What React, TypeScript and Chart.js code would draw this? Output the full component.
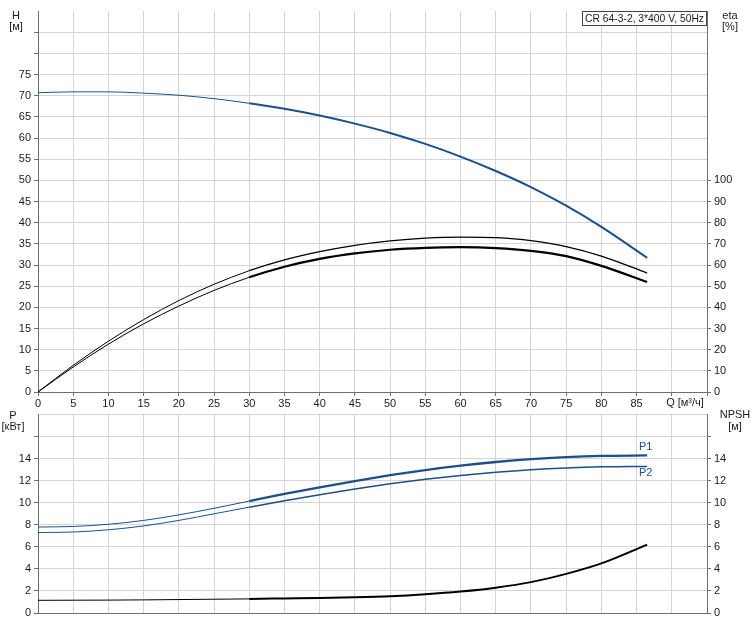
import React, { useEffect, useRef } from 'react';
import { Chart, registerables } from 'chart.js';
Chart.register(...registerables);

// ---- data ----
const flowQ = [0, 5, 10, 15, 20, 25, 30, 35, 40, 45, 50, 55, 60, 65, 70, 75, 80, 86.5];
const headH = [70.7, 70.9, 70.9, 70.6, 70.1, 69.3, 68.2, 66.9, 65.3, 63.4, 61.2, 58.6, 55.6, 52.2, 48.4, 44.0, 39.0, 31.7];
const etaUpper = [0, 12.6, 24.0, 34.2, 43.2, 50.9, 57.3, 62.4, 66.3, 69.3, 71.4, 72.7, 73.2, 72.9, 71.5, 68.7, 64.2, 56.2];
const etaLower = [0, 11.8, 22.6, 32.2, 40.6, 48.0, 54.2, 59.2, 62.9, 65.5, 67.2, 68.1, 68.4, 68.0, 66.7, 64.2, 59.6, 52.0];
const powerP1 = [7.8, 7.85, 8.05, 8.4, 8.9, 9.5, 10.15, 10.8, 11.4, 11.97, 12.5, 12.97, 13.37, 13.7, 13.96, 14.14, 14.25, 14.3];
const powerP2 = [7.3, 7.35, 7.55, 7.9, 8.4, 9.0, 9.6, 10.18, 10.73, 11.25, 11.72, 12.13, 12.48, 12.77, 13.0, 13.16, 13.26, 13.3];
const npshR = [1.15, 1.16, 1.17, 1.19, 1.22, 1.25, 1.28, 1.32, 1.36, 1.42, 1.52, 1.7, 1.95, 2.3, 2.8, 3.55, 4.5, 6.2];

const qTickLabels = [0, 5, 10, 15, 20, 25, 30, 35, 40, 45, 50, 55, 60, 65, 70, 75, 80, 85];
const hTickLabels = [0, 5, 10, 15, 20, 25, 30, 35, 40, 45, 50, 55, 60, 65, 70, 75];
const etaTickLabels = [0, 10, 20, 30, 40, 50, 60, 70, 80, 90, 100];
const pTickLabels = [0, 2, 4, 6, 8, 10, 12, 14];

const BLUE = '#1c4f8c';
const GRID = '#d4d4d4';
const AXIS = '#6e6e6e';
const TEXT = '#1a1a1a';
const FONT = 'Liberation Sans, Arial, sans-serif';
const THICK_FROM = 30;

const pts = (ys: number[]) => flowQ.map((x, i) => ({ x, y: ys[i] }));

const lineDs = (label: string, ys: number[], color: string, axis: string, thin: number, thick: number) => ({
  label,
  data: pts(ys),
  yAxisID: axis,
  borderColor: color,
  backgroundColor: color,
  borderWidth: thin,
  pointRadius: 0,
  fill: false,
  cubicInterpolationMode: 'monotone' as const,
  segment: {
    borderWidth: (ctx: any) => (ctx.p0.parsed.x >= THICK_FROM ? thick : thin),
  },
});

const labelCb = (list: number[]) => (v: any) => (list.includes(Number(v)) ? String(v) : '');

const textPlugin = (draw: (ctx: CanvasRenderingContext2D) => void) => ({
  id: 'texts' + Math.random(),
  afterDraw(chart: any) {
    const ctx = chart.ctx as CanvasRenderingContext2D;
    ctx.save();
    draw(ctx);
    ctx.restore();
  },
});

function put(ctx: CanvasRenderingContext2D, t: string, x: number, y: number, align: CanvasTextAlign = 'center', color = TEXT, maxW?: number) {
  ctx.font = `11px ${FONT}`;
  ctx.fillStyle = color;
  ctx.textAlign = align;
  ctx.textBaseline = 'middle';
  if (maxW) ctx.fillText(t, x, y, maxW);
  else ctx.fillText(t, x, y);
}

export default function App() {
  const topRef = useRef<HTMLCanvasElement>(null);
  const botRef = useRef<HTMLCanvasElement>(null);

  useEffect(() => {
    const tickFont = { family: FONT, size: 11 };

    const top = new Chart(topRef.current!, {
      type: 'line',
      data: {
        datasets: [
          lineDs('H', headH, BLUE, 'yH', 1, 2),
          lineDs('eta', etaUpper, '#000', 'yEta', 1, 1.3),
          lineDs('eta2', etaLower, '#000', 'yEta', 1, 2.2),
        ] as any,
      },
      options: {
        responsive: false,
        animation: false,
        devicePixelRatio: 1,
        layout: { padding: { top: 11, left: 0, right: 0, bottom: 0 } },
        plugins: { legend: { display: false }, tooltip: { enabled: false } },
        scales: {
          x: {
            type: 'linear',
            min: 0,
            max: 95,
            afterFit: (s: any) => { s.height = 18; },
            ticks: { stepSize: 5, autoSkip: false, maxRotation: 0, padding: 1, color: TEXT, font: tickFont, callback: labelCb(qTickLabels) },
            grid: { color: GRID, tickLength: 4, tickColor: AXIS },
            border: { color: AXIS },
          },
          yH: {
            type: 'linear',
            position: 'left',
            min: 0,
            max: 90,
            afterFit: (s: any) => { s.width = 38; },
            ticks: { stepSize: 5, autoSkip: false, padding: 3, color: TEXT, font: tickFont, callback: labelCb(hTickLabels) },
            grid: {
              color: (c: any) => (c.tick && c.tick.value === 90 ? 'rgba(0,0,0,0)' : GRID),
              tickColor: (c: any) => (c.tick && c.tick.value === 90 ? 'rgba(0,0,0,0)' : AXIS),
              tickLength: 4,
            },
            border: { color: AXIS },
          },
          yEta: {
            type: 'linear',
            position: 'right',
            min: 0,
            max: 180,
            afterFit: (s: any) => { s.width = 45; },
            ticks: { stepSize: 10, autoSkip: false, padding: 3, color: TEXT, font: tickFont, callback: labelCb(etaTickLabels) },
            grid: {
              drawOnChartArea: false,
              tickColor: (c: any) => (c.tick && c.tick.value > 100 ? 'rgba(0,0,0,0)' : AXIS),
              tickLength: 4,
            },
            border: { color: AXIS },
          },
        } as any,
      },
      plugins: [
        textPlugin((ctx) => {
          put(ctx, 'H', 16, 16);
          put(ctx, '[м]', 16, 27);
          put(ctx, 'eta', 730, 16);
          put(ctx, '[%]', 730, 27);
          put(ctx, 'Q [м³/ч]', 685, 403);
          // legend box
          ctx.fillStyle = '#fff';
          ctx.fillRect(582.5, 11.5, 124, 14);
          ctx.strokeStyle = '#444';
          ctx.lineWidth = 1;
          ctx.strokeRect(582.5, 11.5, 124, 14);
          put(ctx, 'CR 64-3-2, 3*400 V, 50Hz', 585, 18.5, 'left', TEXT, 119);
        }),
      ],
    } as any);

    const bot = new Chart(botRef.current!, {
      type: 'line',
      data: {
        datasets: [
          lineDs('P1', powerP1, BLUE, 'yP', 1, 2.3),
          lineDs('P2', powerP2, BLUE, 'yP', 1, 1.5),
          lineDs('NPSH', npshR, '#000', 'yN', 1, 2),
        ] as any,
      },
      options: {
        responsive: false,
        animation: false,
        devicePixelRatio: 1,
        layout: { padding: { top: 6, left: 0, right: 0, bottom: 0 } },
        plugins: { legend: { display: false }, tooltip: { enabled: false } },
        scales: {
          x: {
            type: 'linear',
            min: 0,
            max: 95,
            afterFit: (s: any) => { s.height = 11; },
            ticks: { stepSize: 5, autoSkip: false, display: false },
            grid: { color: GRID, drawTicks: false },
            border: { color: AXIS },
          },
          yP: {
            type: 'linear',
            position: 'left',
            min: 0,
            max: 18,
            afterFit: (s: any) => { s.width = 38; },
            ticks: { stepSize: 2, autoSkip: false, padding: 3, color: TEXT, font: tickFont, callback: labelCb(pTickLabels) },
            grid: {
              color: GRID,
              tickColor: (c: any) => (c.tick && c.tick.value === 18 ? 'rgba(0,0,0,0)' : AXIS),
              tickLength: 4,
            },
            border: { color: AXIS },
          },
          yN: {
            type: 'linear',
            position: 'right',
            min: 0,
            max: 18,
            afterFit: (s: any) => { s.width = 45; },
            ticks: { stepSize: 2, autoSkip: false, padding: 3, color: TEXT, font: tickFont, callback: labelCb(pTickLabels) },
            grid: {
              drawOnChartArea: false,
              tickColor: (c: any) => (c.tick && c.tick.value === 18 ? 'rgba(0,0,0,0)' : AXIS),
              tickLength: 4,
            },
            border: { color: AXIS },
          },
        } as any,
      },
      plugins: [
        textPlugin((ctx) => {
          put(ctx, 'P', 13, 11);
          put(ctx, '[кВт]', 13, 22);
          put(ctx, 'NPSH', 735, 10);
          put(ctx, '[м]', 735, 22);
          put(ctx, 'P1', 639, 42, 'left', BLUE);
          put(ctx, 'P2', 639, 68, 'left', BLUE);
        }),
      ],
    } as any);

    return () => {
      top.destroy();
      bot.destroy();
    };
  }, []);

  return (
    <div style={{ position: 'absolute', left: 0, top: 0, width: 752, height: 624 }}>
      <canvas ref={topRef} width={752} height={410} style={{ position: 'absolute', left: 0, top: 0, width: 752, height: 410 }} />
      <canvas ref={botRef} width={752} height={219} style={{ position: 'absolute', left: 0, top: 405, width: 752, height: 219 }} />
    </div>
  );
}
